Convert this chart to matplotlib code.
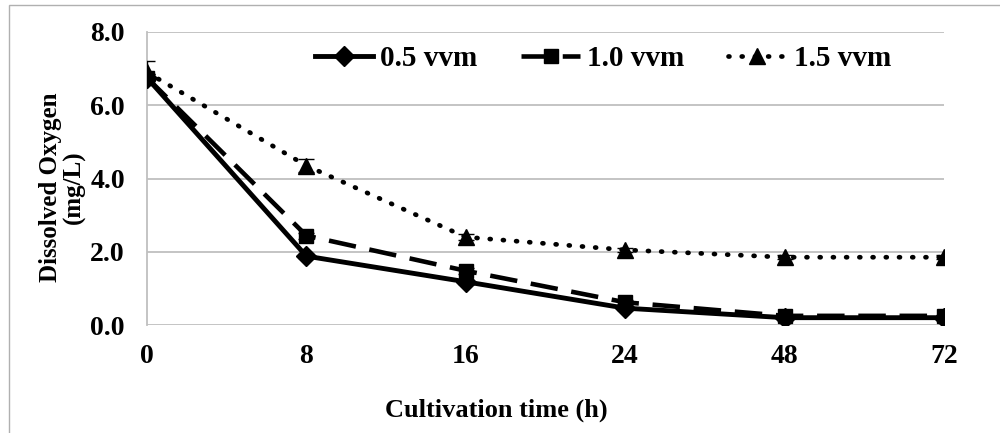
import matplotlib.pyplot as plt
from matplotlib.lines import Line2D
from matplotlib.patches import Rectangle

# sampling times (h) shown as evenly spaced categories
times = ['0', '8', '16', '24', '48', '72']

do_05 = [6.75, 1.88, 1.18, 0.46, 0.20, 0.20]
do_10 = [6.75, 2.44, 1.48, 0.62, 0.25, 0.25]
do_15 = [6.90, 4.35, 2.40, 2.05, 1.85, 1.85]

err_05 = [0.10, 0.05, 0.05, 0.05, 0.03, 0.03]
err_10 = [0.10, 0.08, 0.08, 0.05, 0.03, 0.03]
err_15 = [0.32, 0.18, 0.08, 0.06, 0.05, 0.05]

labels = ['0.5 vvm', '1.0 vvm', '1.5 vvm']

plt.rcParams['font.family'] = ['Liberation Serif', 'DejaVu Serif']
plt.rcParams['font.weight'] = 'bold'

fig = plt.figure(figsize=(10, 4.33), dpi=100)
ax = fig.add_axes([0.147, 0.2494, 0.797, 0.6767])

# chart-area frame (runs off the right/bottom edge)
fig.patches.append(Rectangle((0.009, -0.05), 1.2, 1.05 - 0.0115,
                             transform=fig.transFigure, fill=False,
                             edgecolor='#b0b0b0', lw=1.0))

styles = [dict(ls='-', marker='D', ms=10, lw=3.5),
          dict(ls=(0, (6, 3)), marker='s', ms=10, lw=3.3),
          dict(ls=(0, (0.2, 2.6)), marker='^', ms=11, lw=3.4,
               dash_capstyle='round')]

x = range(len(times))
for ys, es, st in zip([do_05, do_10, do_15], [err_05, err_10, err_15], styles):
    ax.errorbar(x, ys, yerr=es, color='black', capsize=6, elinewidth=1,
                capthick=1, zorder=3, **st)

ax.set_xlim(0, 5)
ax.set_ylim(0, 8)
ax.set_xticks(list(x))
ax.set_xticklabels(times)
ax.set_yticks([0, 2, 4, 6, 8])
ax.set_yticklabels([f'{v:.1f}' for v in [0, 2, 4, 6, 8]])
ax.tick_params(length=0, labelsize=20)
ax.tick_params(axis='x', pad=14)
ax.tick_params(axis='y', pad=16)
ax.grid(axis='y', color='#bfbfbf', lw=1.3)
ax.set_axisbelow(True)
for side in ['top', 'right', 'bottom']:
    ax.spines[side].set_visible(False)
ax.spines['left'].set_color('#bfbfbf')
ax.spines['left'].set_linewidth(1.3)

fig.text(0.496, 1 - 410 / 433, 'Cultivation time (h)', fontsize=19,
         fontweight='bold', ha='center', va='center')
fig.text(0.0625, 1 - 187 / 433, 'Dissolved Oxygen\n(mg/L)', fontsize=18,
         fontweight='bold', ha='center', va='center', rotation=90,
         linespacing=1.05)

handles = [Line2D([], [], color='black', **st) for st in styles]
ax.legend(handles, labels, loc='upper center', bbox_to_anchor=(0.572, 1.044),
          ncol=3, frameon=False, fontsize=21, handlelength=2.0,
          columnspacing=1.5, handletextpad=0.25)

fig.savefig('out.png', dpi=100)
